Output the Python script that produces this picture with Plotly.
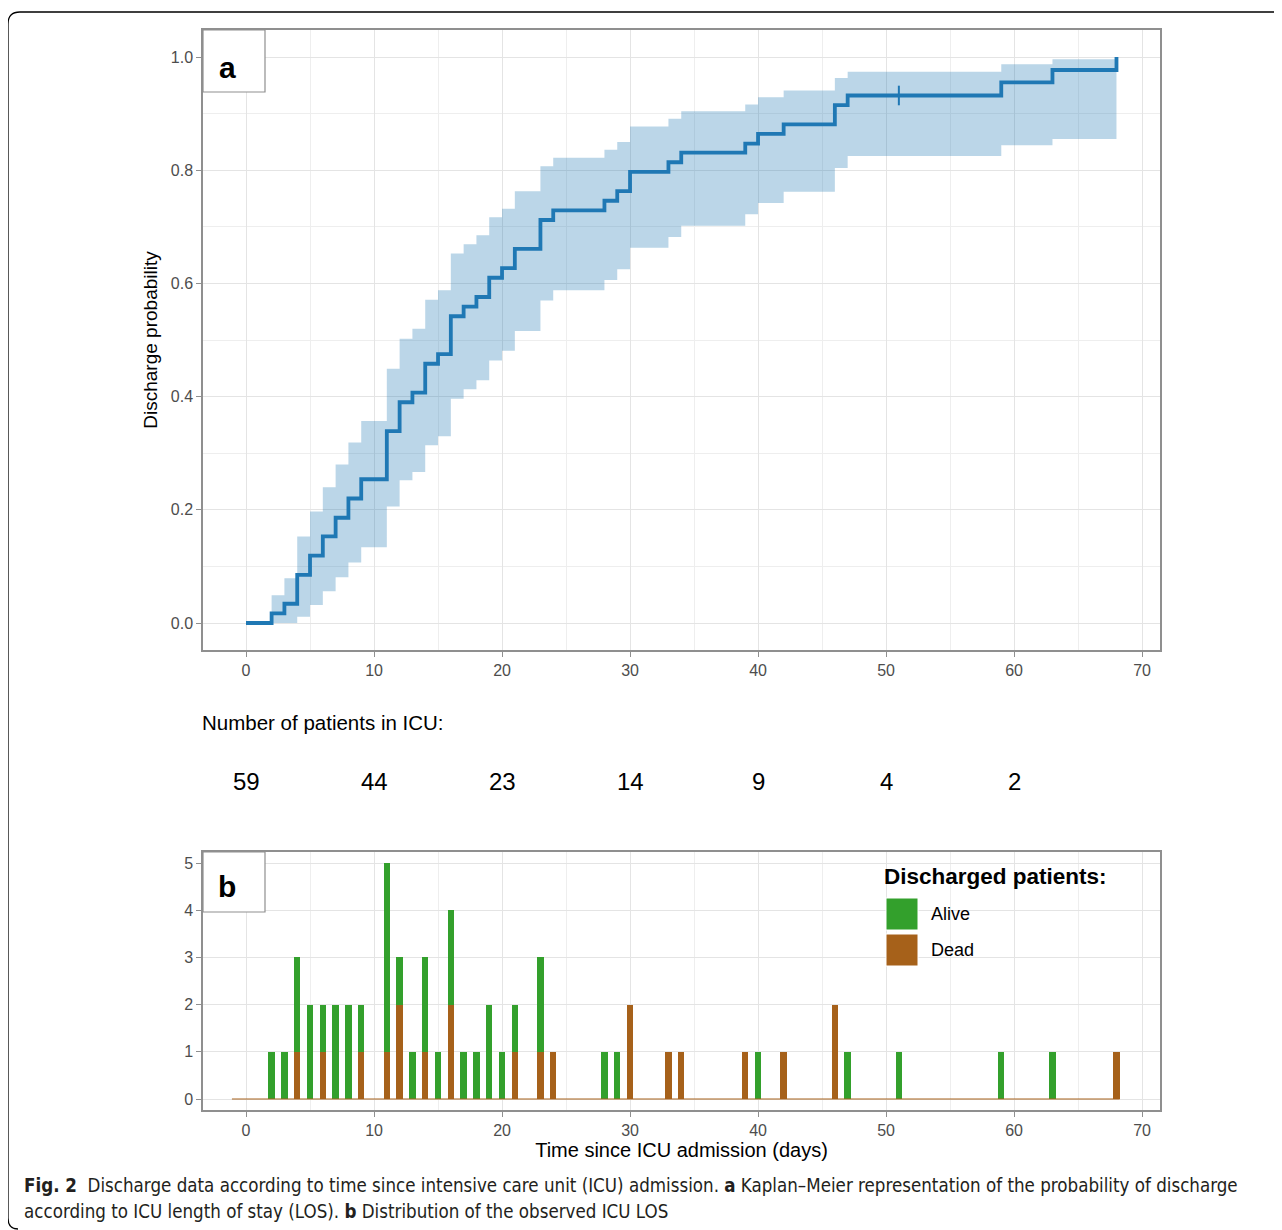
import plotly.graph_objects as go

# ---------------- data ----------------
km_time = [0, 2, 3, 4, 5, 6, 7, 8, 9, 11, 12, 13, 14, 15, 16, 17, 18, 19, 20, 21,
           23, 24, 28, 29, 30, 33, 34, 39, 40, 42, 46, 47, 59, 63, 68]
km_prob = [0.000, 0.017, 0.034, 0.085, 0.119, 0.153, 0.186, 0.220, 0.254, 0.339,
           0.390, 0.407, 0.458, 0.475, 0.542, 0.559, 0.576, 0.610, 0.627, 0.661,
           0.712, 0.729, 0.746, 0.763, 0.797, 0.814, 0.831, 0.847, 0.864, 0.881,
           0.915, 0.932, 0.955, 0.977, 1.000]

ci_time = [2, 3, 4, 5, 6, 7, 8, 9, 11, 12, 13, 14, 15, 16, 17, 18, 19, 20, 21,
           23, 24, 28, 29, 30, 33, 34, 39, 40, 42, 46, 47, 59, 63]
ci_end = 68
ci_low = [0.000, 0.000, 0.011, 0.032, 0.056, 0.081, 0.107, 0.134, 0.206, 0.252,
          0.267, 0.314, 0.330, 0.396, 0.413, 0.429, 0.464, 0.481, 0.516, 0.570,
          0.588, 0.606, 0.625, 0.663, 0.682, 0.702, 0.722, 0.742, 0.762, 0.804,
          0.825, 0.844, 0.855]
ci_high = [0.049, 0.079, 0.153, 0.197, 0.240, 0.280, 0.319, 0.357, 0.449, 0.502,
           0.520, 0.571, 0.588, 0.653, 0.669, 0.685, 0.717, 0.732, 0.763, 0.807,
           0.822, 0.836, 0.850, 0.877, 0.891, 0.904, 0.916, 0.929, 0.941, 0.963,
           0.974, 0.987, 0.996]

censor_time = [51]
censor_prob = [0.932]

risk_times = [0, 10, 20, 30, 40, 50, 60]
risk_n = [59, 44, 23, 14, 9, 4, 2]

bar_days = [2, 3, 4, 5, 6, 7, 8, 9, 11, 12, 13, 14, 15, 16, 17, 18, 19, 20, 21,
            23, 24, 28, 29, 30, 33, 34, 39, 40, 42, 46, 47, 51, 59, 63, 68]
alive = [1, 1, 2, 2, 1, 2, 2, 1, 4, 1, 1, 2, 1, 2, 1, 1, 2, 1, 1,
         2, 0, 1, 1, 0, 0, 0, 0, 1, 0, 0, 1, 1, 1, 1, 0]
dead = [0, 0, 1, 0, 1, 0, 0, 1, 1, 2, 0, 1, 0, 2, 0, 0, 0, 0, 1,
        1, 1, 0, 0, 2, 1, 1, 1, 0, 1, 2, 0, 0, 0, 0, 1]
baseline_x = [-1.1, 68.25]

x_ticks = [0, 10, 20, 30, 40, 50, 60, 70]

# ---------------- styling ----------------
W, H = 1282, 1230
OFF = 8  # page body margin
BLUE = "#1f78b4"
BAND = "rgba(31,120,180,0.30)"
GREEN = "#33a02c"
BROWN = "#a6611a"
BORDER = "#8f8f8f"
GRID = "#e4e4e4"
MINOR = "#eeeeee"
TICKC = "#4d4d4d"
FONT = "Liberation Sans, Arial, sans-serif"
CAPFONT = "Liberation Sans Narrow, DejaVu Sans Condensed, sans-serif"


def px(x):
    return (x - OFF) / W


def py(y):
    return 1 - (y - OFF) / H


XDOM = [px(203), px(1160)]
YDOM_A = [py(650), py(30)]
YDOM_B = [py(1110), py(852)]

band_x = ci_time + [ci_end]
band_lo = ci_low + [ci_low[-1]]
band_hi = ci_high + [ci_high[-1]]

fig = go.Figure()

# confidence band
fig.add_trace(go.Scatter(x=band_x, y=band_lo, mode="lines", line=dict(width=0, shape="hv"),
                         hoverinfo="skip", xaxis="x", yaxis="y"))
fig.add_trace(go.Scatter(x=band_x, y=band_hi, mode="lines", line=dict(width=0, shape="hv"),
                         fill="tonexty", fillcolor=BAND, hoverinfo="skip", xaxis="x", yaxis="y"))
# KM step line
fig.add_trace(go.Scatter(x=km_time, y=km_prob, mode="lines",
                         line=dict(color=BLUE, width=3.8, shape="hv"), xaxis="x", yaxis="y"))
# censor mark
fig.add_trace(go.Scatter(x=censor_time, y=censor_prob, mode="markers",
                         marker=dict(symbol="line-ns-open", size=14, color=BLUE,
                                     line=dict(color=BLUE, width=2)),
                         xaxis="x", yaxis="y"))

# panel b baseline and bars
fig.add_trace(go.Scatter(x=baseline_x, y=[0, 0], mode="lines",
                         line=dict(color=BROWN, width=1), xaxis="x2", yaxis="y2",
                         hoverinfo="skip"))
fig.add_trace(go.Bar(x=bar_days, y=dead, name="Dead", marker=dict(color=BROWN, line=dict(width=0)),
                     width=0.5, xaxis="x2", yaxis="y2"))
fig.add_trace(go.Bar(x=bar_days, y=alive, name="Alive", marker=dict(color=GREEN, line=dict(width=0)),
                     width=0.5, xaxis="x2", yaxis="y2"))

axis_common = dict(showline=True, mirror=True, linecolor=BORDER, linewidth=1.5,
                   ticks="outside", ticklen=5, tickcolor=BORDER, tickwidth=1.2,
                   tickfont=dict(family=FONT, size=16, color=TICKC),
                   showgrid=True, gridcolor=GRID, gridwidth=1.2, zeroline=False)

fig.update_layout(
    width=W, height=H, autosize=False,
    margin=dict(l=0, r=0, t=0, b=0),
    paper_bgcolor="white", plot_bgcolor="white",
    showlegend=False, barmode="stack", bargap=0,
    font=dict(family=FONT, color="black"),
    xaxis=dict(domain=XDOM, anchor="y", range=[-3.36, 71.4], tickvals=x_ticks,
               minor=dict(dtick=5, showgrid=True, gridcolor=MINOR, gridwidth=1, ticks=""),
               **axis_common),
    yaxis=dict(domain=YDOM_A, anchor="x", range=[-0.0477, 1.0477], dtick=0.2, tickformat=".1f",
               minor=dict(dtick=0.1, showgrid=True, gridcolor=MINOR, gridwidth=1, ticks=""),
               title=dict(text="Discharge probability", font=dict(family=FONT, size=19, color="black"),
                          standoff=8),
               **axis_common),
    xaxis2=dict(domain=XDOM, anchor="y2", range=[-3.36, 71.4], tickvals=x_ticks,
                minor=dict(dtick=5, showgrid=True, gridcolor=MINOR, gridwidth=1, ticks=""),
                title=dict(text="Time since ICU admission (days)",
                           font=dict(family=FONT, size=20, color="black"), standoff=4),
                **axis_common),
    yaxis2=dict(domain=YDOM_B, anchor="x2", range=[-0.233, 5.233], dtick=1,
                **axis_common),
)

shapes = []
annotations = []

# panel label boxes
for (x0, y0, x1, y1, lab, cy) in [(203, 30, 265, 92, "a", 67), (203, 852, 265, 912, "b", 886)]:
    shapes.append(dict(type="rect", xref="paper", yref="paper", x0=px(x0), x1=px(x1),
                       y0=py(y1), y1=py(y0), fillcolor="white", line=dict(color=BORDER, width=1.2),
                       layer="above"))
    annotations.append(dict(x=px(227), y=py(cy), xref="paper", yref="paper", text="<b>%s</b>" % lab,
                            showarrow=False, font=dict(family=FONT, size=30, color="black"),
                            xanchor="center", yanchor="middle"))

# number at risk
annotations.append(dict(x=px(200), y=py(722), xref="paper", yref="paper",
                        text="Number of patients in ICU:", showarrow=False, xanchor="left",
                        yanchor="middle", font=dict(family=FONT, size=20.5, color="black")))
for t, n in zip(risk_times, risk_n):
    annotations.append(dict(x=t, y=py(781), xref="x", yref="paper", text=str(n), showarrow=False,
                            xanchor="center", yanchor="middle",
                            font=dict(family=FONT, size=24, color="black")))

# legend (panel b)
annotations.append(dict(x=px(882), y=py(876), xref="paper", yref="paper",
                        text="<b>Discharged patients:</b>", showarrow=False, xanchor="left",
                        yanchor="middle", font=dict(family=FONT, size=22.5, color="black")))
for (lab, col, y0) in [("Alive", GREEN, 898), ("Dead", BROWN, 934)]:
    shapes.append(dict(type="rect", xref="paper", yref="paper", x0=px(886), x1=px(918),
                       y0=py(y0 + 32), y1=py(y0), fillcolor=col, line=dict(color="white", width=1)))
    annotations.append(dict(x=px(929), y=py(y0 + 16), xref="paper", yref="paper", text=lab,
                            showarrow=False, xanchor="left", yanchor="middle",
                            font=dict(family=FONT, size=18, color="black")))

# outer frame with rounded corners
def P(x, y):
    return "%.5f,%.5f" % (px(x), py(y))

frame = ("M " + P(8, 1218) + " L " + P(8, 24) + " Q " + P(8, 12) + " " + P(20, 12) +
         " L " + P(1300, 12))
shapes.append(dict(type="path", xref="paper", yref="paper", path=frame,
                   line=dict(color="black", width=1.3)))
frame2 = "M " + P(8, 1218) + " Q " + P(8, 1229) + " " + P(18, 1229)
shapes.append(dict(type="path", xref="paper", yref="paper", path=frame2,
                   line=dict(color="black", width=1.3)))

# caption
cap1 = ("<b>Fig. 2</b>  Discharge data according to time since intensive care unit (ICU) admission. "
        "<b>a</b> Kaplan\u2013Meier representation of the probability of discharge")
cap2 = "according to ICU length of stay (LOS). <b>b</b> Distribution of the observed ICU LOS"
annotations.append(dict(x=px(22), y=py(1185), xref="paper", yref="paper", text=cap1, showarrow=False,
                        xanchor="left", yanchor="middle",
                        font=dict(family=CAPFONT, size=18.6, color="#231f20")))
annotations.append(dict(x=px(22), y=py(1211), xref="paper", yref="paper", text=cap2, showarrow=False,
                        xanchor="left", yanchor="middle",
                        font=dict(family=CAPFONT, size=18.6, color="#231f20")))

fig.update_layout(shapes=shapes, annotations=annotations)

fig.write_html("out.html")
